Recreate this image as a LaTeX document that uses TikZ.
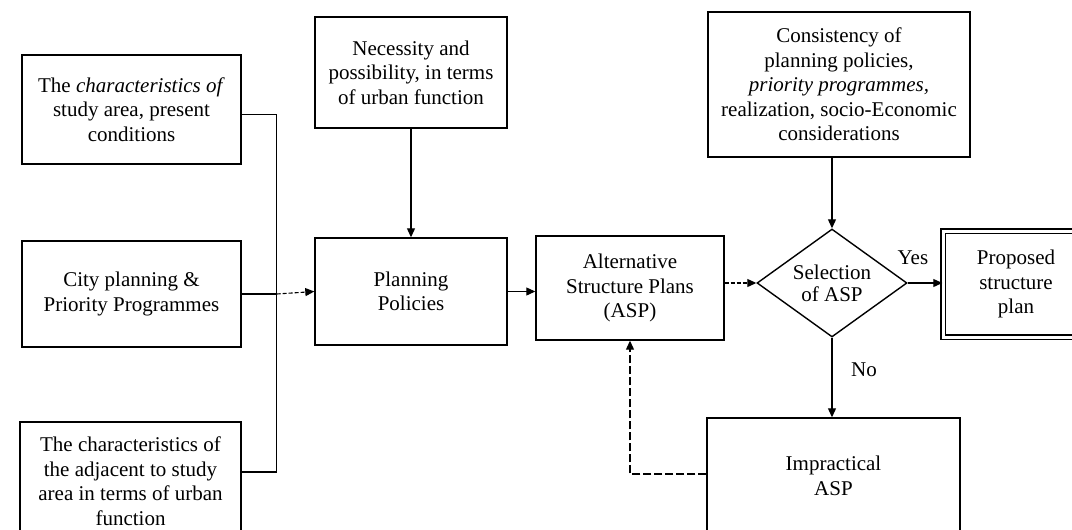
\documentclass[tikz,border=0pt]{standalone}
\usepackage{fontspec}
\setmainfont{Liberation Serif}
\usetikzlibrary{shapes.geometric, arrows.meta, positioning, calc}

\tikzset{
    box/.style={draw, line width=1.4pt, align=center, inner sep=4pt,
                font=\fontsize{21}{24.5}\selectfont},
    decision/.style={diamond, draw, line width=1.4pt, align=center, inner sep=0pt,
                aspect=1.4, font=\fontsize{21}{22}\selectfont},
    lbl/.style={font=\fontsize{21}{24.5}\selectfont, inner sep=1pt},
    link/.style={line width=1.1pt},
    arr/.style={link, -{Triangle[length=9pt,width=8pt]}},
    dashlink/.style={dash pattern=on 4pt off 2pt},
    feedback/.style={dash pattern=on 8pt off 3pt}
}

\begin{document}
\begin{tikzpicture}[x=1pt, y=-1pt]
    \useasboundingbox (0,0) rectangle (1072,530);
    \clip (0,0) rectangle (1072,530);

    % inputs on the left
    \node[box, minimum width=219pt, minimum height=109pt] (study) at (131.5,109.5)
        {The \textit{characteristics of}\\study area, present\\conditions};
    \node[box, minimum width=219pt, minimum height=106pt] (city) at (131.5,294)
        {City planning \&\\Priority Programmes};
    \node[box, minimum width=221pt, minimum height=118pt] (adjacent) at (130.5,481)
        {The characteristics of\\the adjacent to study\\area in terms of urban\\function};

    % main line
    \node[box, minimum width=192pt, minimum height=111pt] (need) at (411,72.5)
        {Necessity and\\possibility, in terms\\of urban function};
    \node[box, minimum width=192pt, minimum height=107pt] (policy) at (411,291.5)
        {Planning\\Policies};
    \node[box, minimum width=188pt, minimum height=104pt] (asp) at (630,288)
        {Alternative\\Structure Plans\\(ASP)};
    \node[box, minimum width=262pt, minimum height=145pt] (consist) at (839,84.5)
        {Consistency of\\planning policies,\\\textit{priority programmes,}\\realization, socio-Economic\\considerations};
    \node[decision, minimum width=150pt, minimum height=108pt] (select) at (832,283)
        {Selection\\of ASP};
    \node[box, double, double distance=3pt, minimum width=146pt, minimum height=106pt] (proposed) at (1016,284)
        {Proposed\\structure\\plan};
    \node[box, minimum width=253pt, minimum height=116pt] (impractical) at (833.5,476)
        {Impractical\\ASP};

    % connectors
    \coordinate (join) at ([xshift=35pt]city.east);
    \draw[link] ([yshift=-5pt]study.east) -| (join) |- ([yshift=9pt]adjacent.east);
    \draw[link] (city.east) -- (join);
    \draw[arr, dashlink] (join) -- (policy.west);
    \draw[arr] (need.south) -- (policy.north);
    \draw[arr] (policy.east) -- (asp.west |- policy.east);
    \draw[arr, dashlink] (asp.east |- select.west) -- (select.west);
    \draw[arr] (select.north |- consist.south) -- (select.north);
    \draw[arr] (select.east) -- node[lbl, pos=0.15, yshift=25pt] {Yes} (proposed.west |- select.east);
    \draw[arr] (select.south) -- node[lbl, pos=0.4, xshift=32pt] {No} (impractical.north -| select.south);
    \draw[arr, feedback] ([yshift=2pt]impractical.west) -| (asp.south);
\end{tikzpicture}
\end{document}
